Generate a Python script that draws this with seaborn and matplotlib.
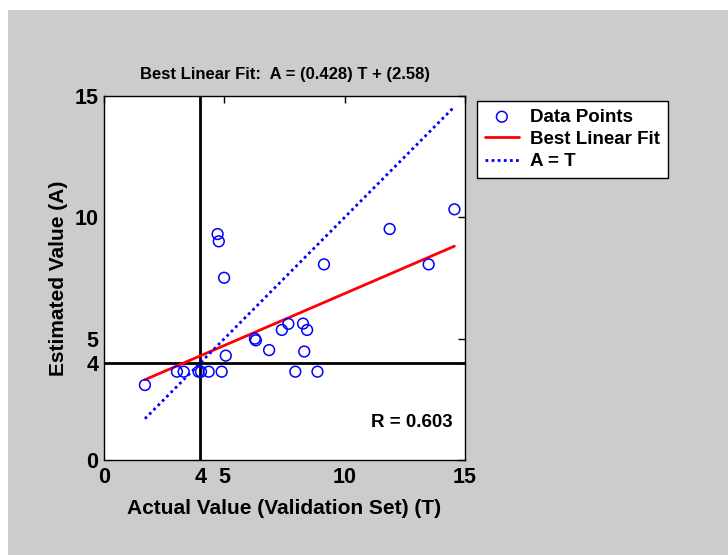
import matplotlib
matplotlib.use("Agg")
import matplotlib.pyplot as plt
import seaborn as sns
import numpy as np
import pandas as pd
from matplotlib.patches import Rectangle

sns.set_style("white")
plt.rcParams['font.family'] = ['Liberation Sans', 'DejaVu Sans']
plt.rcParams['font.weight'] = 'bold'
plt.rcParams['text.color'] = 'black'
plt.rcParams['axes.labelcolor'] = 'black'
plt.rcParams['xtick.color'] = 'black'
plt.rcParams['ytick.color'] = 'black'

# Data
actual = [1.70, 3.03, 3.31, 3.93, 4.03, 4.35, 4.89, 4.72, 4.77, 4.99, 5.06,
          6.27, 6.31, 6.86, 7.39, 7.66, 7.95, 8.27, 8.32, 8.44, 8.87, 9.14,
          11.87, 13.49, 14.56]
estimated = [3.09, 3.64, 3.64, 3.64, 3.64, 3.64, 3.64, 9.31, 9.01, 7.51, 4.30,
             5.00, 4.93, 4.53, 5.36, 5.61, 3.64, 5.62, 4.47, 5.36, 3.64, 8.06,
             9.52, 8.06, 10.33]
slope = 0.428
intercept = 2.58
r_value = 0.603
threshold = 4
ticks = [0, 4, 5, 10, 15]

df = pd.DataFrame({"T": actual, "A": estimated})
xr = [min(actual), max(actual)]
fit_df = pd.DataFrame({"T": xr, "A": [slope * v + intercept for v in xr]})
id_df = pd.DataFrame({"T": xr, "A": xr})

fig = plt.figure(figsize=(7.28, 5.55), dpi=100, facecolor='white')
fig.patches.append(Rectangle((8 / 728, 0), 1 - 8 / 728, 1 - 10 / 555,
                             transform=fig.transFigure, facecolor='#cccccc',
                             edgecolor='none', zorder=-10))
ax = fig.add_axes([104 / 728, 95 / 555, 361 / 728, 364 / 555])
ax.set_facecolor('white')

ax.axvline(threshold, color='black', lw=2, zorder=1)
ax.axhline(threshold, color='black', lw=2, zorder=1)

sns.scatterplot(data=df, x="T", y="A", ax=ax, marker='o', s=60,
                facecolor='none', edgecolor='#0000ff', linewidth=1.1,
                label='Data Points', zorder=3)
sns.lineplot(data=fit_df, x="T", y="A", ax=ax, color='#ff0000', lw=2,
             label='Best Linear Fit', zorder=2)
sns.lineplot(data=id_df, x="T", y="A", ax=ax, color='#0000ff', lw=2,
             linestyle=(0, (1, 1.2)), label='A = T', zorder=2)

ax.set_xlim(0, 15)
ax.set_ylim(0, 15)
ax.set_xticks(ticks)
ax.set_yticks(ticks)
ax.tick_params(direction='in', top=True, right=True, length=5, width=1,
               labelsize=15.5, colors='black')
ax.tick_params(axis='x', pad=5)
ax.tick_params(axis='y', pad=4)
for lab in ax.get_xticklabels() + ax.get_yticklabels():
    lab.set_fontweight('bold')
for sp in ax.spines.values():
    sp.set_color('black')
    sp.set_linewidth(1)

ax.set_xlabel("Actual Value (Validation Set) (T)", fontsize=15,
              fontweight='bold', labelpad=8)
ax.set_ylabel("Estimated Value (A)", fontsize=15, fontweight='bold',
              labelpad=5)
ax.set_title("Best Linear Fit:  A = (%.3f) T + (%.2f)" % (slope, intercept),
             fontsize=12, fontweight='bold', pad=12)
ax.text(14.5, 1.55, "R = %.3f" % r_value, ha='right', va='center',
        fontsize=13.5, fontweight='bold')

leg = ax.legend(loc='upper left', bbox_to_anchor=(477 / 728, 1 - 101 / 555),
                bbox_transform=fig.transFigure, frameon=True, fancybox=False,
                fontsize=13.5, handlelength=1.85, borderpad=0.4,
                labelspacing=0.28, borderaxespad=0, handletextpad=0.6)
leg.get_frame().set_edgecolor('black')
leg.get_frame().set_linewidth(1)
leg.get_frame().set_facecolor('white')
leg.get_frame().set_alpha(1)
for t in leg.get_texts():
    t.set_fontweight('bold')
    t.set_color('black')

fig.savefig("out.png", dpi=100, facecolor=fig.get_facecolor())
